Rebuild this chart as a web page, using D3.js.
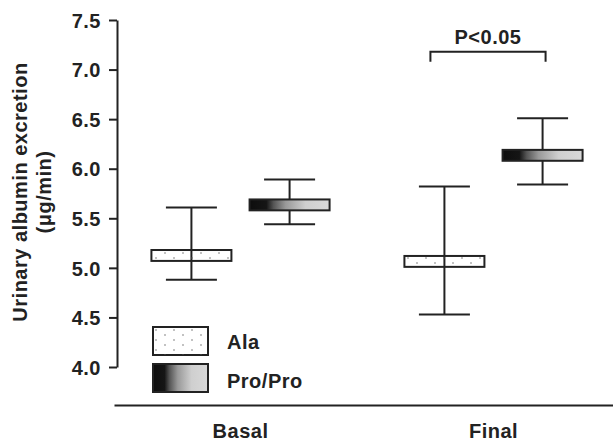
<!DOCTYPE html>
<html>
<head>
<meta charset="utf-8">
<script src="https://cdn.jsdelivr.net/npm/d3@7"></script>
<style>
  body { margin: 0; background: #fff; }
  svg text { font-family: "Liberation Sans", Arial, sans-serif; font-weight: bold; fill: #222; letter-spacing: 0.5px; }
</style>
</head>
<body>
<svg id="chart" width="613" height="442"></svg>
<script>
const groups = ['Basal', 'Final'];
const series = ['Ala', 'Pro/Pro'];
// values per series, one entry per group
const boxLow = { 'Ala': [5.07, 5.01], 'Pro/Pro': [5.58, 6.08] };
const boxHigh = { 'Ala': [5.18, 5.12], 'Pro/Pro': [5.69, 6.19] };
const whiskerLow = { 'Ala': [4.88, 4.53], 'Pro/Pro': [5.44, 5.84] };
const whiskerHigh = { 'Ala': [5.61, 5.82], 'Pro/Pro': [5.89, 6.51] };
const yTicks = [4.0, 4.5, 5.0, 5.5, 6.0, 6.5, 7.0, 7.5];
const pText = 'P<0.05';
const pLevel = 7.18;

const svg = d3.select('#chart');
const ink = '#222';
const fs = '20px';

const y = d3.scaleLinear().domain([4, 7.5]).range([367, 20]);
const x0 = d3.scaleBand().domain(groups).range([114, 620]);
const x1 = d3.scalePoint().domain(series)
  .range([x0.bandwidth() * 0.306, x0.bandwidth() * 0.694]);
const cx = (g, s) => x0(g) + x1(s);

const boxW = 80, capW = 51;

// fills
const defs = svg.append('defs');
const pat = defs.append('pattern')
  .attr('id', 'dots')
  .attr('patternUnits', 'userSpaceOnUse')
  .attr('width', 18).attr('height', 10);
pat.append('circle').attr('cx', 3).attr('cy', 3).attr('r', 0.7).attr('fill', '#555');
pat.append('circle').attr('cx', 12).attr('cy', 8).attr('r', 0.7).attr('fill', '#555');

const grad = defs.append('linearGradient')
  .attr('id', 'grad')
  .attr('x1', '0%').attr('x2', '100%').attr('y1', '0%').attr('y2', '0%');
[[0, '#0d0d0d'], [0.21, '#151515'], [0.3, '#555'], [0.45, '#999'], [0.7, '#cfcfcf'], [1, '#d9d9d9']]
  .forEach(s => grad.append('stop').attr('offset', s[0]).attr('stop-color', s[1]));

const fill = { 'Ala': 'url(#dots)', 'Pro/Pro': 'url(#grad)' };

// y axis
const yAxisG = svg.append('g')
  .attr('transform', 'translate(117,0)')
  .call(d3.axisLeft(y).tickValues(yTicks).tickFormat(d3.format('.1f'))
    .tickSize(8).tickSizeOuter(0).tickPadding(8));
yAxisG.selectAll('path, line').attr('stroke', ink).attr('stroke-width', 2);
yAxisG.selectAll('text').style('font-size', fs).attr('fill', ink).attr('dy', '0.36em');

// x axis
const xAxisG = svg.append('g')
  .attr('transform', 'translate(0,405)')
  .call(d3.axisBottom(x0).tickSize(0).tickSizeOuter(0).tickPadding(19));
xAxisG.select('.domain').attr('stroke', ink).attr('stroke-width', 2);
xAxisG.selectAll('text').style('font-size', fs).attr('fill', ink);

// y title
const title = svg.append('g').attr('transform', 'translate(27,192) rotate(-90)');
title.append('text').attr('text-anchor', 'middle').style('font-size', fs)
  .text('Urinary albumin excretion');
title.append('text').attr('text-anchor', 'middle').attr('y', 24).style('font-size', fs)
  .text('(μg/min)');

// boxes
const rows = [];
series.forEach(s => groups.forEach((g, i) => rows.push({
  g, s, lo: boxLow[s][i], hi: boxHigh[s][i], wlo: whiskerLow[s][i], whi: whiskerHigh[s][i]
})));

const plot = svg.append('g');
plot.selectAll('.stem').data(rows).enter().append('line')
  .attr('x1', d => cx(d.g, d.s)).attr('x2', d => cx(d.g, d.s))
  .attr('y1', d => y(d.whi)).attr('y2', d => y(d.wlo))
  .attr('stroke', ink).attr('stroke-width', 2);
['whi', 'wlo'].forEach(k => {
  plot.selectAll('.cap-' + k).data(rows).enter().append('line')
    .attr('x1', d => cx(d.g, d.s) - capW / 2).attr('x2', d => cx(d.g, d.s) + capW / 2)
    .attr('y1', d => y(d[k])).attr('y2', d => y(d[k]))
    .attr('stroke', ink).attr('stroke-width', 2);
});
plot.selectAll('rect.box').data(rows).enter().append('rect')
  .attr('class', 'box')
  .attr('x', d => cx(d.g, d.s) - boxW / 2)
  .attr('y', d => y(d.hi))
  .attr('width', boxW)
  .attr('height', d => y(d.lo) - y(d.hi))
  .attr('fill', d => fill[d.s])
  .attr('stroke', ink).attr('stroke-width', 2);

// significance bracket
const bx1 = cx('Final', 'Ala') - 14, bx2 = cx('Final', 'Pro/Pro') + 3;
const by = y(pLevel);
svg.append('path')
  .attr('d', `M${bx1},${by + 10}V${by}H${bx2}V${by + 10}`)
  .attr('fill', 'none').attr('stroke', ink).attr('stroke-width', 2);
svg.append('text')
  .attr('x', (bx1 + bx2) / 2).attr('y', by - 8)
  .attr('text-anchor', 'middle').style('font-size', fs)
  .text(pText);

// legend
const legend = svg.append('g').attr('transform', 'translate(153,327)');
legend.selectAll('rect').data(series).enter().append('rect')
  .attr('x', 0).attr('y', (d, i) => i * 37)
  .attr('width', 55).attr('height', 28)
  .attr('fill', d => d === 'Ala' ? '#fff' : fill[d])
  .attr('stroke', ink).attr('stroke-width', 2);
legend.append('rect').attr('x', 0).attr('y', 0).attr('width', 55).attr('height', 28)
  .attr('fill', fill['Ala']);
legend.selectAll('text').data(series).enter().append('text')
  .attr('x', 74).attr('y', (d, i) => 22 + i * 39)
  .style('font-size', fs)
  .text(d => d);
</script>
</body>
</html>
